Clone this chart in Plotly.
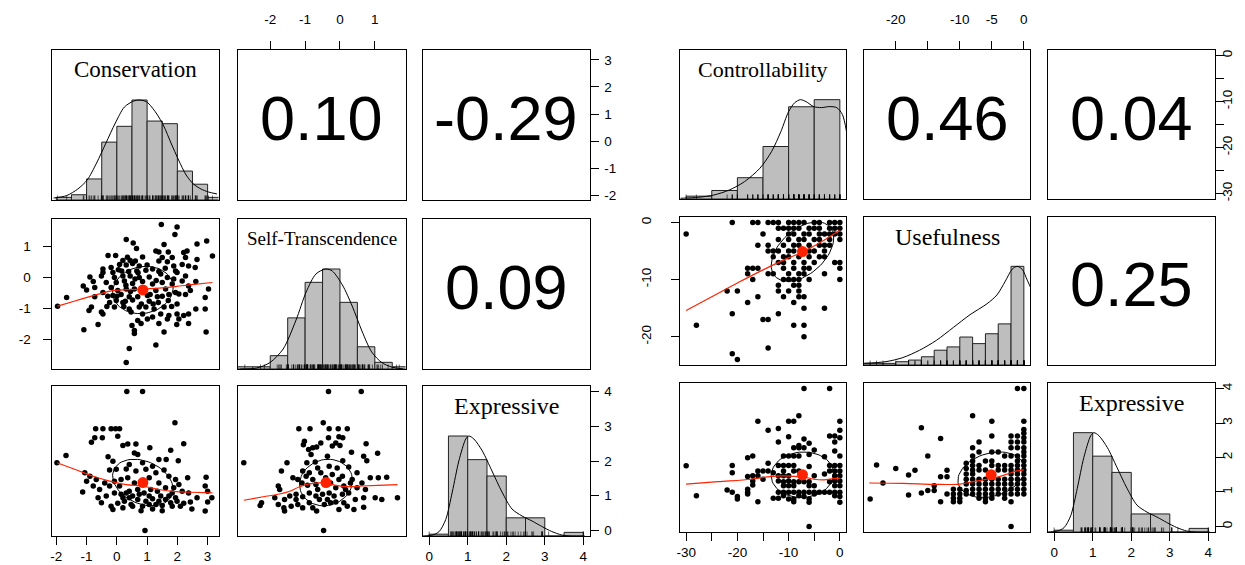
import math
import plotly.graph_objects as go

W, H = 1245, 565

# ======================= LEFT MATRIX VALUES =======================
L_names = ["Conservation", "Self-Transcendence", "Expressive"]
L_ranges = [[-2.16, 3.36], [-2.94, 1.88], [-0.16, 4.16]]
L_r = {"01": 0.10, "02": -0.29, "12": 0.09}
L_means = [0.86, -0.40, 1.38]
L_sds = [1.0, 0.76, 0.67]

cons_edges = [-2.0, -1.5, -1.0, -0.5, 0.0, 0.5, 1.0, 1.5, 2.0, 2.5, 3.0, 3.5]
cons_counts = [1, 2, 8, 22, 28, 38, 30, 29, 11, 6, 1]
self_edges = [-3.0, -2.5, -2.0, -1.5, -1.0, -0.5, 0.0, 0.5, 1.0, 1.5, 2.0]
self_counts = [1, 1, 6, 23, 39, 45, 30, 10, 3, 1]
expr_edges = [0.0, 0.5, 1.0, 1.5, 2.0, 2.5, 3.0, 3.5, 4.0]
expr_counts = [1, 55, 42, 33, 10, 10, 0, 2]

cons_dens_x = [-2.09, -1.66, -1.29, -0.98, -0.67, -0.36, -0.05, 0.25, 0.56, 0.75, 0.99, 1.30, 1.55, 1.79, 2.04, 2.29, 2.53, 2.78, 3.03, 3.31]
cons_dens_y = [0.02, 0.044, 0.11, 0.20, 0.37, 0.57, 0.77, 0.93, 0.99, 1.0, 0.98, 0.87, 0.74, 0.57, 0.40, 0.25, 0.16, 0.11, 0.08, 0.06]
self_dens_x = [-2.86, -2.39, -2.01, -1.63, -1.26, -0.97, -0.69, -0.41, -0.22, 0.07, 0.35, 0.63, 0.91, 1.20, 1.48, 1.81]
self_dens_y = [0.0, 0.01, 0.064, 0.20, 0.49, 0.77, 0.95, 1.0, 0.98, 0.84, 0.63, 0.38, 0.17, 0.064, 0.02, 0.0]
expr_dens_x = [-0.17, 0.09, 0.26, 0.43, 0.60, 0.77, 0.95, 1.03, 1.16, 1.38, 1.63, 1.89, 2.15, 2.41, 2.67, 2.92, 3.18, 3.44, 3.70, 4.04]
expr_dens_y = [0.0, 0.01, 0.045, 0.165, 0.44, 0.75, 0.97, 1.0, 0.97, 0.85, 0.65, 0.44, 0.27, 0.20, 0.15, 0.096, 0.045, 0.01, 0.0, 0.0]

# Conservation (x) vs Self-Transcendence (y)
L21_cons = [1.47, 1.99, 1.92, 0.31, 0.54, 1.56, 2.65, 2.97, 0.65, 1.29,
            1.39, 1.70, 2.32, 2.21, 3.16, -0.29, -0.04, 0.85, 1.50, 1.83,
            2.27, 2.65, 0.20, 0.44, 0.61, 1.39, 1.67, 0.09, 0.31, 0.52,
            0.74, 1.18, -0.46, -0.19, 1.88, 2.16, 2.37, 2.59, -0.46, -0.13,
            0.16, 0.39, 0.66, 0.96, 1.39, 1.94, 2.27, 1.99, -0.89, -0.51,
            -0.08, 0.20, 0.44, 0.74, 1.07, 1.45, 1.67, 1.88, -0.78, -1.11,
            -0.73, -0.35, -0.02, 0.25, 0.52, 0.85, 1.18, 1.50, 1.83, 2.16,
            2.37, 2.61, 3.03, -1.66, -1.00, -0.46, -0.19, 0.03, 0.31, 0.58,
            1.29, 1.61, 1.94, 2.43, 2.92, -0.73, -0.13, 0.14, 0.41, 0.69,
            1.01, 1.34, 1.72, 2.05, 2.27, -1.96, -0.84, -0.24, -0.02, 0.28,
            0.52, 0.81, 1.07, 1.37, 1.70, 1.99, -0.92, -0.51, -0.33, -0.08,
            0.23, 0.41, 0.74, 0.96, 1.23, 1.56, 1.81, 2.61, 2.92, -0.46,
            0.47, 0.85, 1.18, 1.45, 1.72, 1.99, 2.21, 2.37, 0.69, 1.01,
            2.05, 1.67, -0.62, 0.50, 0.80, 1.39, 1.98, 2.37, -1.09, 0.58,
            0.58, 1.56, 2.95, 1.29, 0.41, 0.31,
            0.0, 0.3, 0.6, 0.9, 1.1, 0.2, 0.45, 1.3, 0.05, 0.7, 1.0, -0.3, 1.5, 1.2, 0.35, 1.6]
L21_self = [1.70, 1.62, 1.38, 1.22, 1.11, 1.06, 1.08, 1.17, 0.93, 0.85,
            0.82, 0.82, 0.85, 0.80, 0.69, 0.71, 0.71, 0.66, 0.64, 0.64,
            0.64, 0.58, 0.55, 0.55, 0.53, 0.53, 0.51, 0.42, 0.40, 0.45,
            0.37, 0.27, 0.27, 0.32, 0.37, 0.42, 0.37, 0.32, 0.16, 0.16,
            0.21, 0.19, 0.21, 0.23, 0.19, 0.21, 0.05, 0.16, 0.02, 0.05,
            0.00, 0.05, 0.05, 0.00, 0.02, 0.11, 0.00, -0.05, -0.13, -0.27,
            -0.32, -0.16, -0.16, -0.11, -0.19, -0.13, -0.21, -0.16, -0.21, -0.11,
            -0.27, -0.13, -0.37, -0.64, -0.40, -0.48, -0.32, -0.42, -0.37, -0.37,
            -0.42, -0.37, -0.48, -0.42, -0.64, -0.62, -0.58, -0.55, -0.62, -0.62,
            -0.58, -0.62, -0.55, -0.53, -0.55, -0.92, -0.95, -0.80, -0.74, -0.76,
            -0.72, -0.85, -0.76, -0.80, -0.74, -0.85, -1.06, -1.11, -0.93, -0.95,
            -0.93, -1.01, -0.95, -0.95, -1.01, -0.95, -0.93, -1.01, -1.01, -1.17,
            -1.11, -1.17, -1.27, -1.17, -1.22, -1.17, -1.22, -1.17, -1.38, -1.33,
            -1.33, -1.33, -1.51, -1.54, -1.48, -1.48, -1.51, -1.48, -1.68, -1.70,
            -1.80, -1.75, -1.75, -2.17, -2.28, -2.73,
            -0.6, -0.25, -0.05, -0.35, -0.55, -0.8, -0.45, -0.1, 0.25, 0.15, 0.4, -0.6, -0.6, -0.85, 0.65, 0.3]

# Conservation (x) vs Expressive (y)
L31_cons = [0.33, 0.85, 1.92, -0.70, -0.46, -0.19, -0.04, 0.09, -0.73, -0.48,
            0.03, -0.84, 0.20, 0.36, 0.63, 1.09, 1.78, 2.21, -1.68, -1.98,
            -0.29, -0.13, 0.58, 0.69, 1.39, 1.63, 2.03, 0.85, 1.18, 0.41,
            -1.06, -0.89, -0.68, -0.24, -0.02, 0.31, 0.63, 0.96, 1.29, 1.56,
            1.72, 1.94, 2.34, 2.95, -1.13, -0.78, -0.57, -0.40, -0.24, -0.08,
            0.14, 0.36, 0.58, 1.07, 1.39, 1.88, 2.05, 2.92, 3.00, -1.00,
            -0.62, -0.35, -0.08, 0.14, 0.41, 0.69, 0.90, 1.12, 1.34, 1.61,
            1.83, 2.16, 2.37, 2.65, 3.14, -0.51, -0.19, 0.03, 0.25, 0.47,
            0.69, 0.96, 1.18, 1.39, 1.61, 1.78, 1.99, 2.21, 2.43, 3.00,
            -0.13, 0.20, 0.52, 0.80, 1.18, 1.50, 1.83, 2.10, 2.48, 2.92,
            0.93,
            0.09, 0.31, 0.52, 0.74, 1.07, 1.45, 1.72, 1.94, 0.85, 1.07, 1.29, 1.50, 0.41, 0.20]
L31_expr = [4.0, 4.0, 3.10, 2.93, 2.93, 2.93, 2.93, 2.93, 2.67, 2.67,
            2.71, 2.54, 2.45, 2.49, 2.49, 2.38, 2.31, 2.50, 2.16, 1.95,
            2.12, 1.99, 2.23, 2.19, 2.04, 2.04, 2.01, 1.95, 1.85, 1.90,
            1.66, 1.56, 1.47, 1.74, 1.76, 1.77, 1.71, 1.76, 1.66, 1.74,
            1.56, 1.47, 1.52, 1.53, 1.11, 1.28, 1.18, 1.37, 1.28, 1.42,
            1.47, 1.52, 1.37, 1.52, 1.37, 1.23, 1.32, 1.28, 1.13, 1.42,
            0.94, 0.99, 1.08, 1.04, 1.13, 1.18, 1.08, 1.18, 1.13, 1.23,
            1.08, 1.13, 1.08, 0.94, 0.94, 0.80, 0.70, 0.78, 0.84, 0.75,
            0.89, 0.84, 0.91, 0.84, 0.89, 0.80, 0.84, 0.78, 0.82, 0.82,
            0.60, 0.65, 0.70, 0.57, 0.62, 0.57, 0.70, 0.70, 0.62, 0.56,
            0.0,
            1.28, 1.08, 0.99, 1.04, 0.99, 0.99, 0.99, 0.94, 0.70, 0.75, 0.75, 0.72, 0.94, 0.94]

# Self-Transcendence (x) vs Expressive (y)
L32_self = [-0.33, 0.61, -0.48, -1.18, -0.86, -0.31, -0.05, 0.21, -0.03, 0.08,
            -0.33, -0.55, -0.12, -1.02, -1.05, 0.75, -0.78, -0.67, -0.90, -0.22,
            0.0, -0.83, -0.36, 0.33, 0.68, 1.08, 0.77, -2.76, -1.52, -0.95,
            -0.71, 0.08, -0.64, -0.31, -0.08, 0.25, -1.68, -1.35, -1.07, -0.88,
            -0.55, -0.22, 0.07, 0.49, 0.35, 0.87, 1.10, 1.34, -1.77, -1.73,
            -1.21, -1.09, -0.93, -0.78, -0.64, -0.27, -0.12, 0.11, 0.30, 0.49,
            0.63, 0.73, -2.25, -2.29, -1.87, -1.59, -1.44, -1.26, -1.07, -0.88,
            -0.69, -0.50, -0.31, -0.17, 0.07, 0.25, 0.44, 0.68, 1.01, 1.20,
            1.65, -1.77, -1.61, -1.59, -1.40, -1.21, -1.07, -0.88, -0.67, -0.45,
            -0.27, -0.03, 0.21, 0.40, 0.68, -0.47,
            -0.97, -0.69, -0.41, -0.03, 0.16, -0.59, -0.36, -0.12, 0.11, -1.26, -0.78]
L32_expr = [4.0, 4.0, 3.10, 2.93, 2.93, 2.93, 2.93, 2.93, 2.70, 2.67,
            2.67, 2.52, 2.52, 2.57, 2.47, 2.50, 2.38, 2.40, 2.33, 2.43,
            2.45, 2.19, 2.14, 2.25, 2.14, 2.22, 2.01, 1.95, 1.95, 1.95,
            1.97, 2.01, 1.80, 1.85, 1.80, 1.83, 1.71, 1.52, 1.71, 1.66,
            1.66, 1.61, 1.56, 1.66, 1.47, 1.52, 1.52, 1.53, 1.28, 1.18,
            1.47, 1.37, 1.30, 1.47, 1.18, 1.37, 1.23, 1.28, 1.37, 1.23,
            1.37, 1.18, 0.80, 0.72, 0.94, 0.89, 0.99, 1.04, 0.97, 1.08,
            0.99, 1.04, 1.08, 0.99, 1.04, 1.08, 0.89, 0.94, 0.94, 0.89,
            0.94, 0.75, 0.65, 0.56, 0.70, 0.75, 0.65, 0.80, 0.56, 0.75,
            0.80, 0.60, 0.70, 0.60, 0.67, 0.0,
            1.56, 1.32, 1.52, 1.47, 1.18, 0.89, 0.89, 0.82, 0.80, 0.89, 0.65]

L21_loess_x = [-1.96, -1.33, -0.78, -0.13, 0.41, 0.85, 1.39, 1.94, 2.48, 3.16]
L21_loess_y = [-0.92, -0.74, -0.58, -0.42, -0.39, -0.37, -0.34, -0.29, -0.23, -0.16]
L31_loess_x = [-1.98, -1.33, -0.78, -0.24, 0.31, 0.85, 1.39, 1.94, 2.48, 3.16]
L31_loess_y = [1.95, 1.74, 1.56, 1.42, 1.32, 1.28, 1.18, 1.12, 1.10, 1.08]
L32_loess_x = [-2.76, -2.20, -1.73, -1.44, -1.16, -0.88, -0.59, -0.41, -0.12, 0.25, 0.63, 1.10, 1.65]
L32_loess_y = [0.87, 0.97, 1.05, 1.13, 1.26, 1.34, 1.37, 1.37, 1.30, 1.26, 1.28, 1.30, 1.32]

# ======================= RIGHT MATRIX VALUES =======================
R_names = ["Controllability", "Usefulness", "Expressive"]
R_ranges = [[-31.2, 1.2], [-24.96, 0.96], [-0.16, 4.16]]
R_r = {"01": 0.46, "02": 0.04, "12": 0.25}
R_means = [-7.3, -5.1, 1.50]
R_sds = [6.1, 5.2, 0.66]

ctrl_edges = [-30, -25, -20, -15, -10, -5, 0]
ctrl_counts = [2, 6, 15, 37, 65, 70]
use_edges = [-26, -24, -22, -20, -18, -16, -14, -12, -10, -8, -6, -4, -2, 0]
use_counts = [1, 1, 1, 2, 3, 5, 9, 11, 17, 13, 19, 25, 60]

ctrl_dens_x = [-31.1, -27.6, -24.6, -21.6, -18.6, -15.6, -13.3, -11.5, -10.0, -8.8, -7.7, -6.6, -5.1, -3.6, -2.1, -0.6, 0.5, 1.3]
ctrl_dens_y = [0.007, 0.017, 0.04, 0.09, 0.175, 0.31, 0.48, 0.68, 0.88, 0.97, 1.0, 0.98, 0.93, 0.92, 0.93, 0.92, 0.85, 0.68]
use_dens_x = [-24.93, -21.52, -18.9, -16.27, -13.65, -11.02, -8.4, -5.77, -4.2, -2.89, -1.84, -1.05, -0.26, 0.53, 1.31]
use_dens_y = [0.017, 0.034, 0.075, 0.15, 0.25, 0.38, 0.51, 0.62, 0.71, 0.85, 0.97, 1.0, 0.97, 0.86, 0.75]

# Controllability (x) vs Usefulness (y)
R21_ctrl = [-21, -17, -16, -14, -13, -12, -10, -9, -8, -7, -5, -4, -2, -1, 0,
            -12, -11, -10, -9, -8, -6, -5, -4, -2, -1, 0,
            -30, -15, -10, -9, -7, -6, -4, -3, -2, -1, 0,
            -12, -10, -8, -7, -5, -4, -2, 0,
            -16, -14, -11, -9, -8, -6, -4, -3, -2,
            -14, -13, -12, -10, -9, -6, -5, -3,
            -13, -11, -10, -8, -6, -4, -3,
            -12, -11, -9, -7, -5, -1, 0,
            -18, -17, -16, -11, -9, -7, -6, 0,
            -18, -14, -13, -10, -8, -7, -3,
            -17, -11, -10, -9, -8, -6, 0,
            -12, -9, -8,
            -22, -20, -12, -10, -8,
            -16, -11, -8, -7,
            -18, -9,
            -7, -3,
            -21, -12,
            -15, -14,
            -28, -9, -7,
            -7, -14, -21, -20]
R21_use = [0, 0, 0, 0, 0, 0, 0, 0, 0, 0, 0, 0, 0, 0, 0,
           -1, -1, -1, -1, -1, -1, -1, -1, -1, -1, -1,
           -2, -2, -2, -2, -2, -2, -2, -2, -2, -2, -2,
           -3, -3, -3, -3, -3, -3, -3, -3,
           -4, -4, -4, -4, -4, -4, -4, -4, -4,
           -5, -5, -5, -5, -5, -5, -5, -5,
           -6, -6, -6, -6, -6, -6, -6,
           -7, -7, -7, -7, -7, -7, -7,
           -8, -8, -8, -8, -8, -8, -8, -8,
           -9, -9, -9, -9, -9, -9, -9,
           -10, -10, -10, -10, -10, -10, -10,
           -11, -11, -11,
           -12, -12, -12, -12, -12,
           -13, -13, -13, -13,
           -14, -14,
           -15, -15,
           -16, -16,
           -17, -17,
           -18, -18, -18,
           -20, -22, -23, -24]

# Controllability (x) vs Expressive (y)
R31_ctrl = [-7, -2, -8, -16, -10, -9, 0, -14, -12, 0,
            -10, -7, -2, -1, 0, -12, -6, -1, -9, -8,
            -7, -5, -1, -8, -17, -18, -11, -10, -9, -8,
            -3, 0, -6, -21, -14, -12, -11, -10, -9, -6,
            -2, -1, 0, -30, -21, -16, -15, -14, -13, -11,
            -9, -8, -2, -1, 0, -18, -17, -16, -12, -11,
            -10, -5, -3, -1, 0, -17, -15, -12, -11, -10,
            -9, -8, -7, -6, -2, -1, 0, -17, -18, -11,
            -10, -9, -6, -5, -1, 0, -22, -21, -18, -12,
            -11, -10, -9, -8, -7, -6, -5, -4, -3, -2,
            -1, 0, -28, -20, -20, -18, -13, -12, -11, -10,
            -9, -8, -7, -6, -5, -1, 0, -16, -9, -6,
            0, -6]
R31_expr = [4.0, 4.0, 3.21, 3.05, 3.05, 3.05, 3.05, 2.79, 2.84, 2.79,
            2.60, 2.54, 2.62, 2.62, 2.57, 2.45, 2.41, 2.45, 2.28, 2.28,
            2.28, 2.22, 2.19, 2.35, 2.04, 1.99, 2.04, 2.04, 2.04, 2.04,
            2.02, 2.04, 2.09, 1.77, 1.83, 1.77, 1.77, 1.77, 1.77, 1.74,
            1.77, 1.77, 1.77, 1.76, 1.56, 1.61, 1.61, 1.61, 1.56, 1.61,
            1.61, 1.61, 1.61, 1.61, 1.61, 1.45, 1.47, 1.47, 1.47, 1.47,
            1.47, 1.47, 1.52, 1.47, 1.47, 1.32, 1.37, 1.32, 1.30, 1.32,
            1.30, 1.30, 1.30, 1.30, 1.30, 1.32, 1.32, 1.20, 1.08, 1.18,
            1.18, 1.18, 1.18, 1.18, 1.18, 1.18, 1.06, 0.99, 0.99, 0.99,
            0.99, 0.99, 0.99, 0.99, 0.99, 0.99, 0.99, 0.99, 0.99, 0.99,
            0.99, 0.99, 0.89, 0.87, 0.80, 0.94, 0.82, 0.82, 0.89, 0.80,
            0.80, 0.89, 0.87, 0.80, 0.94, 0.89, 0.87, 0.72, 0.72, 0.70,
            0.70, 0.0]

# Usefulness (x) vs Expressive (y)
R32_use = [-1, 0, -8, -5, 0, -16, -5, 0, 0, 0,
           -13, -7, -8, -2, -1, -2, -1, -2, -1, 0,
           0, -15, -5, -4, -7, -8, -8, -23, -20, -17,
           -18, -22, -12, -13, -12, -14, -15, -14, -16, -18,
           -24, -13, -11, -11, -11, -11, -10, -10, -10, -10,
           -9, -9, -9, -9, -9, -9, -9,
           -8, -8, -8, -8, -8, -8, -8,
           -7, -7, -7, -7, -7, -7, -7,
           -6, -6, -6, -6, -6, -6, -6, -6,
           -5, -5, -5, -5, -5, -5, -5,
           -4, -4, -4, -4, -4, -4,
           -3, -3, -3, -3, -3, -3, -3, -3,
           -2, -2, -2, -2, -2, -2, -2, -2, -2,
           -1, -1, -1, -1, -1, -1, -1, -1, -1,
           0, 0, 0, 0, 0, 0, 0, 0, 0, 0,
           -2, -12]
R32_expr = [4.0, 4.0, 3.21, 3.05, 3.05, 2.86, 2.62, 2.81, 2.70, 2.57,
            2.55, 2.45, 2.28, 2.62, 2.62, 2.45, 2.45, 2.28, 2.28, 2.45,
            2.28, 2.04, 2.16, 2.16, 2.16, 2.04, 1.90, 1.78, 1.68, 1.63,
            1.49, 1.26, 1.63, 1.44, 1.44, 1.18, 1.04, 1.04, 0.97, 0.91,
            0.80, 0.72, 1.08, 0.94, 0.82, 0.72, 1.08, 0.94, 0.82, 0.72,
            1.83, 1.68, 1.52, 1.37, 1.23, 1.04, 0.94,
            1.77, 1.64, 1.52, 1.37, 1.23, 1.08, 0.94,
            1.77, 1.64, 1.37, 1.23, 1.08, 0.94, 0.82,
            1.90, 1.64, 1.37, 1.23, 1.08, 0.94, 0.82, 0.72,
            1.90, 1.77, 1.37, 1.23, 1.08, 0.94, 0.82,
            1.77, 1.64, 1.37, 1.23, 1.08, 0.94,
            2.04, 1.77, 1.64, 1.37, 1.23, 1.08, 0.94, 0.82,
            2.04, 1.77, 1.64, 1.52, 1.37, 1.23, 1.08, 0.94, 0.72,
            2.04, 1.90, 1.77, 1.64, 1.52, 1.37, 1.23, 1.08, 0.94,
            2.16, 2.04, 1.90, 1.77, 1.64, 1.52, 1.37, 1.23, 1.08, 0.94,
            0.0, 0.94]

R21_loess_x = [-30.0, -25.0, -20.0, -15.0, -10.0, -7.3, -4.0, -0.1]
R21_loess_y = [-15.4, -13.0, -10.6, -8.3, -6.2, -5.2, -3.6, -1.4]
R31_loess_x = [-30.0, -23.8, -17.3, -14.1, -10.9, -8.95, -7.14, -5.07, -3.14, -1.2, 0.0]
R31_loess_y = [1.23, 1.30, 1.37, 1.44, 1.47, 1.45, 1.44, 1.37, 1.35, 1.39, 1.40]
R32_loess_x = [-24.15, -18.9, -13.65, -9.97, -7.87, -5.77, -4.2, -2.62, -1.05, 0.0]
R32_loess_y = [1.26, 1.25, 1.22, 1.23, 1.30, 1.37, 1.42, 1.52, 1.61, 1.64]

# ======================= LAYOUT (pixels) =======================
LEFT_X = [(43.5, 210.5), (229.5, 397.5), (415.0, 581.5)]
LEFT_Y = [(42.0, 192.0), (211.0, 361.0), (378.0, 528.0)]
RIGHT_X = [(672.0, 838.0), (856.0, 1022.0), (1040.0, 1206.5)]
RIGHT_Y = [(42.0, 191.0), (209.0, 357.0), (375.0, 524.0)]

SANS = "Liberation Sans, Arial, Helvetica, sans-serif"
SERIF = "Liberation Serif, Times New Roman, serif"
TICK_FONT = dict(family=SANS, size=13.5, color="black")
DIAG_TOP = 1.5

fig = go.Figure()
layout = dict(width=W, height=H, margin=dict(l=0, r=0, t=0, b=0, pad=0),
              paper_bgcolor="white", plot_bgcolor="white", showlegend=False)
annotations = []


def ids(k):
    s = "" if k == 1 else str(k)
    return "x" + s, "y" + s, "xaxis" + s, "yaxis" + s


def base_axis(domain, rng, anchor):
    return dict(domain=domain, range=rng, anchor=anchor, showgrid=False, zeroline=False,
                showline=True, mirror=True, linecolor="black", linewidth=1,
                ticks="", showticklabels=False, automargin=False, fixedrange=True)


def set_ticks(ax, side, vals, text, angle, standoff):
    ax.update(ticks="outside", ticklen=8, tickwidth=1, tickcolor="black", side=side,
              tickmode="array", tickvals=vals, ticktext=text, showticklabels=True,
              tickfont=TICK_FONT, tickangle=angle, ticklabelstandoff=standoff)


def ellipse(mx, my, sx, sy, r, n=73):
    xs, ys = [], []
    for i in range(n):
        t = 2 * math.pi * i / (n - 1)
        xs.append(mx + sx * math.cos(t))
        ys.append(my + sy * (r * math.cos(t) + math.sqrt(1 - r * r) * math.sin(t)))
    return xs, ys


def build(k0, cols, rows, names, ranges, rvals, means, sds, diag, lower, ticks,
          label_sizes, yangle, standoffs):
    for i in range(3):
        for j in range(3):
            k = k0 + i * 3 + j
            xa, ya, xk, yk = ids(k)
            x0, x1 = cols[j]
            y0, y1 = rows[i]
            xdom = [x0 / W, x1 / W]
            ydom = [1 - y1 / H, 1 - y0 / H]
            xrng = ranges[j]
            yrng = [0, DIAG_TOP] if i == j else ranges[i]
            xax = base_axis(xdom, xrng, ya)
            yax = base_axis(ydom, yrng, xa)
            if (i, j, "x") in ticks:
                side, vals, text = ticks[(i, j, "x")]
                set_ticks(xax, side, vals, text, 0, standoffs[side])
            if (i, j, "y") in ticks:
                side, vals, text = ticks[(i, j, "y")]
                if i == j:
                    # diagonal panel: the histogram uses a 0..1.5 scale, the axis shows the variable
                    r0, r1 = ranges[i]
                    vals = [(v - r0) / (r1 - r0) * DIAG_TOP for v in vals]
                set_ticks(yax, side, vals, text, yangle, standoffs[side])
            layout[xk] = xax
            layout[yk] = yax
            cx = (x0 + x1) / 2 / W
            cy = 1 - ((y0 + y1) / 2 - 7) / H
            if i == j:
                edges, counts, dx, dy, rug = diag[i]
                m = max(counts)
                fig.add_trace(go.Bar(
                    x=[(edges[q] + edges[q + 1]) / 2 for q in range(len(counts))],
                    y=[c / m for c in counts],
                    width=[edges[q + 1] - edges[q] for q in range(len(counts))],
                    marker=dict(color="#BEBEBE", line=dict(color="#222222", width=1)),
                    xaxis=xa, yaxis=ya, hoverinfo="skip"))
                fig.add_trace(go.Scatter(x=dx, y=dy, mode="lines",
                                         line=dict(color="black", width=1, shape="spline", smoothing=0.8),
                                         xaxis=xa, yaxis=ya, hoverinfo="skip"))
                rx, ry = [], []
                for v in rug:
                    rx += [v, v, None]
                    ry += [0, 0.045, None]
                fig.add_trace(go.Scatter(x=rx, y=ry, mode="lines",
                                         line=dict(color="black", width=0.6),
                                         xaxis=xa, yaxis=ya, hoverinfo="skip"))
                annotations.append(dict(x=cx, y=1 - (y0 + 20) / H, xref="paper", yref="paper",
                                        text=names[i], showarrow=False, xanchor="center",
                                        yanchor="middle",
                                        font=dict(family=SERIF, size=label_sizes[i], color="black")))
            elif j > i:
                r = rvals[f"{i}{j}"]
                # invisible anchor point so the empty panel (box, ticks) is drawn
                fig.add_trace(go.Scatter(x=[means[j]], y=[means[i]], mode="markers",
                                         marker=dict(size=1, opacity=0),
                                         xaxis=xa, yaxis=ya, hoverinfo="skip"))
                annotations.append(dict(x=cx, y=cy, xref="paper", yref="paper",
                                        text=f"{r:.2f}", showarrow=False, xanchor="center",
                                        yanchor="middle",
                                        font=dict(family=SANS, size=63, color="black")))
            else:
                px, py, lx, ly = lower[(i, j)]
                fig.add_trace(go.Scatter(x=px, y=py, mode="markers",
                                         marker=dict(size=5.5, color="black", line=dict(width=0)),
                                         xaxis=xa, yaxis=ya, hoverinfo="skip"))
                ex, ey = ellipse(means[j], means[i], sds[j], sds[i], rvals[f"{j}{i}"])
                fig.add_trace(go.Scatter(x=ex, y=ey, mode="lines",
                                         line=dict(color="black", width=1),
                                         xaxis=xa, yaxis=ya, hoverinfo="skip"))
                fig.add_trace(go.Scatter(x=lx, y=ly, mode="lines",
                                         line=dict(color="#FF2200", width=1.2, shape="spline"),
                                         xaxis=xa, yaxis=ya, hoverinfo="skip"))
                fig.add_trace(go.Scatter(x=[means[j]], y=[means[i]], mode="markers",
                                         marker=dict(size=11, color="#FF2200", line=dict(width=0)),
                                         xaxis=xa, yaxis=ya, hoverinfo="skip"))


L_ticks = {
    (0, 1, "x"): ("top", [-2, -1, 0, 1], ["-2", "-1", "0", "1"]),
    (0, 2, "y"): ("right", [-2, -1, 0, 1, 2, 3], ["-2", "-1", "0", "1", "2", "3"]),
    (1, 0, "y"): ("left", [-2, -1, 0, 1], ["-2", "-1", "0", "1"]),
    (2, 0, "x"): ("bottom", [-2, -1, 0, 1, 2, 3], ["-2", "-1", "0", "1", "2", "3"]),
    (2, 2, "x"): ("bottom", [0, 1, 2, 3, 4], ["0", "1", "2", "3", "4"]),
    (2, 2, "y"): ("right", [0, 1, 2, 3, 4], ["0", "1", "2", "3", "4"]),
}
R_ticks = {
    (0, 1, "x"): ("top", [-20, -15, -10, -5, 0], ["-20", "", "-10", "-5", "0"]),
    (0, 2, "y"): ("right", [0, -5, -10, -15, -20, -25, -30], ["0", "", "-10", "", "-20", "", "-30"]),
    (1, 0, "y"): ("left", [0, -10, -20], ["0", "-10", "-20"]),
    (2, 0, "x"): ("bottom", [-30, -25, -20, -15, -10, -5, 0], ["-30", "", "-20", "", "-10", "", "0"]),
    (2, 2, "x"): ("bottom", [0, 1, 2, 3, 4], ["0", "1", "2", "3", "4"]),
    (2, 2, "y"): ("right", [0, 1, 2, 3, 4], ["0", "1", "2", "3", "4"]),
}

build(1, LEFT_X, LEFT_Y, L_names, L_ranges, {**L_r, "10": L_r["01"], "20": L_r["02"], "21": L_r["12"]},
      L_means, L_sds,
      diag=[(cons_edges, cons_counts, cons_dens_x, cons_dens_y, L21_cons),
            (self_edges, self_counts, self_dens_x, self_dens_y, L21_self),
            (expr_edges, expr_counts, expr_dens_x, expr_dens_y, L31_expr)],
      lower={(1, 0): (L21_cons, L21_self, L21_loess_x, L21_loess_y),
             (2, 0): (L31_cons, L31_expr, L31_loess_x, L31_loess_y),
             (2, 1): (L32_self, L32_expr, L32_loess_x, L32_loess_y)},
      ticks=L_ticks, label_sizes=[23, 19, 24], yangle=0,
      standoffs={"top": 12, "bottom": 0, "left": 9, "right": 3})

build(10, RIGHT_X, RIGHT_Y, R_names, R_ranges, {**R_r, "10": R_r["01"], "20": R_r["02"], "21": R_r["12"]},
      R_means, R_sds,
      diag=[(ctrl_edges, ctrl_counts, ctrl_dens_x, ctrl_dens_y, R21_ctrl),
            (use_edges, use_counts, use_dens_x, use_dens_y, R21_use),
            (expr_edges, expr_counts, expr_dens_x, expr_dens_y, R31_expr)],
      lower={(1, 0): (R21_ctrl, R21_use, R21_loess_x, R21_loess_y),
             (2, 0): (R31_ctrl, R31_expr, R31_loess_x, R31_loess_y),
             (2, 1): (R32_use, R32_expr, R32_loess_x, R32_loess_y)},
      ticks=R_ticks, label_sizes=[22, 24, 24], yangle=-90,
      standoffs={"top": 12, "bottom": 0, "left": 15, "right": -8})

layout["annotations"] = annotations
fig.update_layout(**layout)
fig.write_html("out.html", config={"displayModeBar": False})
